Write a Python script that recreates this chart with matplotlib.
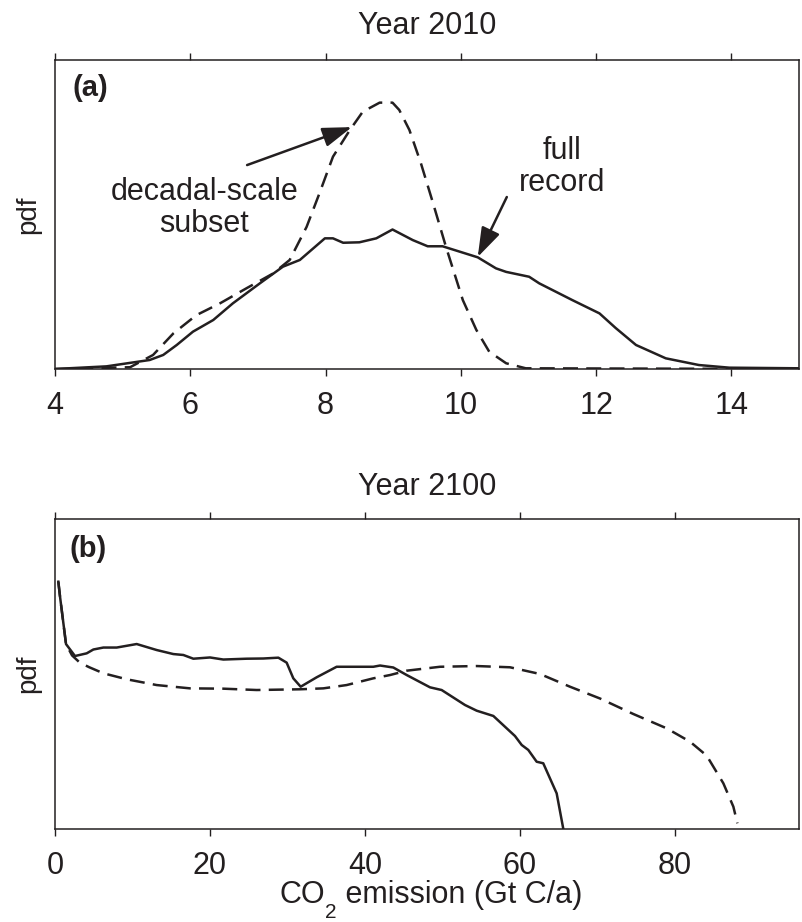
import matplotlib
matplotlib.use("Agg")
import matplotlib.pyplot as plt

plt.rcParams['font.family'] = ['Liberation Sans', 'DejaVu Sans']

INK = '#231f20'

# ---------------- Panel (a): Year 2010 ----------------
full2010_x = [4.0, 4.76, 5.40, 5.60, 5.80, 6.04, 6.34, 6.63, 7.03, 7.37, 7.62, 7.99, 8.11,
              8.26, 8.50, 8.75, 8.99, 9.29, 9.51, 9.73, 10.25, 10.52, 10.67, 11.01, 11.16,
              11.65, 12.05, 12.29, 12.59, 13.03, 13.52, 13.97, 15.0]
full2010_y = [0.0, 0.003, 0.0102, 0.0159, 0.0272, 0.0423, 0.0555, 0.0744, 0.0971, 0.1159,
              0.1235, 0.148, 0.148, 0.143, 0.1435, 0.148, 0.158, 0.146, 0.139, 0.139, 0.1265,
              0.114, 0.110, 0.1045, 0.097, 0.078, 0.063, 0.0464, 0.0272, 0.0121, 0.0045,
              0.0015, 0.0008]

dec2010_x = [4.0, 5.11, 5.45, 5.75, 6.09, 6.44, 6.83, 7.22, 7.47, 7.72, 7.91, 8.11, 8.36,
             8.55, 8.80, 8.99, 9.09, 9.24, 9.41, 9.59, 9.78, 10.03, 10.23, 10.42, 10.67,
             10.96, 15.0]
dec2010_y = [0.0, 0.002, 0.0159, 0.0403, 0.061, 0.0744, 0.0914, 0.108, 0.1235, 0.161, 0.199,
             0.2405, 0.2707, 0.2914, 0.3017, 0.3017, 0.2934, 0.2707, 0.233, 0.1877, 0.1385,
             0.078, 0.0442, 0.0196, 0.0065, 0.0008, 0.0]

# ---------------- Panel (b): Year 2100 ----------------
full2100_x = [0.43, 0.65, 1.42, 2.58, 4.09, 4.95, 6.24, 7.96, 10.54, 13.12, 15.27, 16.56,
              17.85, 20.0, 21.72, 24.73, 26.88, 28.82, 29.89, 30.75, 31.7, 33.76, 36.34,
              41.07, 41.94, 43.65, 45.38, 48.39, 49.89, 52.9, 54.41, 56.56, 59.35, 60.22,
              61.07, 62.15, 63.0, 64.73, 65.59]
full2100_y = [0.02393, 0.02248, 0.0179, 0.01674, 0.0170, 0.01737, 0.01756, 0.01756, 0.0179,
              0.01732, 0.01693, 0.01684, 0.01648, 0.0166, 0.0164, 0.01648, 0.0165, 0.01658,
              0.0161, 0.01458, 0.01377, 0.01468, 0.0157, 0.0157, 0.01582, 0.01563, 0.0149,
              0.01371, 0.01345, 0.0120, 0.01145, 0.01094, 0.0090, 0.00813, 0.00765, 0.00651,
              0.00636, 0.00345, 0.0]

dec2100_x = [0.43, 0.65, 1.42, 2.2, 3.2, 4.43, 6.24, 9.25, 13.12, 17.42, 21.72, 26.02, 31.6,
             34.62, 37.63, 41.07, 43.23, 45.38, 49.68, 54.41, 58.71, 62.58, 66.45, 70.32,
             74.62, 78.93, 81.94, 84.09, 86.24, 87.53, 88.05]
dec2100_y = [0.02393, 0.02248, 0.0179, 0.0168, 0.0161, 0.01565, 0.01507, 0.01449, 0.01393,
             0.01361, 0.01358, 0.01345, 0.01352, 0.01361, 0.01393, 0.01458, 0.0149, 0.01532,
             0.0157, 0.01577, 0.01565, 0.015, 0.01377, 0.01263, 0.01113, 0.00974, 0.00845,
             0.0071, 0.00442, 0.00216, 0.00055]

ticks_a = [4, 6, 8, 10, 12, 14]
ticks_b = [0, 20, 40, 60, 80]

FS = 22
LW = 1.8
DASH = (6.0, 3.3)

fig = plt.figure(figsize=(8.03, 9.22), dpi=100)
axa = fig.add_axes([55/803, (922-369)/922, 744/803, 309/922])
axb = fig.add_axes([55/803, (922-829)/922, 744/803, 310/922])


def style(ax, xlim, ylim, ticks):
    ax.set_xlim(*xlim)
    ax.set_ylim(*ylim)
    ax.set_xticks(ticks)
    ax.set_yticks([])
    for s in ax.spines.values():
        s.set_linewidth(1.1)
        s.set_color(INK)
    ax.tick_params(axis='x', which='both', direction='out', top=True, bottom=True,
                   length=5, width=1.0, color=INK, labelsize=FS, labelcolor=INK, pad=11)
    ax.set_ylabel('pdf', fontsize=20, color=INK)
    ax.yaxis.set_label_coords(-0.018, 0.5)


# Panel a
axa.plot(full2010_x, full2010_y, color=INK, lw=LW, solid_joinstyle='round')
axa.plot(dec2010_x, dec2010_y, color=INK, lw=LW, linestyle=(0, DASH))
style(axa, (4, 15), (0, 0.35), ticks_a)
axa.text(0.5, 1.084, 'Year 2010', transform=axa.transAxes, ha='center', va='baseline',
         fontsize=FS, color=INK)
axa.text(0.024, 0.909, '(a)', transform=axa.transAxes, ha='left', va='center',
         fontsize=21, fontweight='bold', color=INK)

axa.text(6.21, 0.1824, 'decadal-scale\nsubset', ha='center', va='center', fontsize=FS,
         color=INK, linespacing=1.05, multialignment='center')
axa.text(11.49, 0.2288, 'full\nrecord', ha='center', va='center', fontsize=FS,
         color=INK, linespacing=1.05, multialignment='center')
arrow_kw = dict(arrowstyle='-|>,head_length=0.9,head_width=0.3', color=INK, lw=1.8,
                mutation_scale=20, shrinkA=0, shrinkB=0)
axa.annotate('', xy=(8.39, 0.274), xytext=(6.84, 0.231), arrowprops=arrow_kw)
axa.annotate('', xy=(10.25, 0.1269), xytext=(10.68, 0.1948), arrowprops=arrow_kw)

# Panel b
axb.plot(full2100_x, full2100_y, color=INK, lw=LW, solid_joinstyle='round')
axb.plot(dec2100_x, dec2100_y, color=INK, lw=LW, linestyle=(0, DASH))
style(axb, (0, 96), (0, 0.03), ticks_b)
axb.text(0.5, 1.077, 'Year 2100', transform=axb.transAxes, ha='center', va='baseline',
         fontsize=FS, color=INK)
axb.text(0.019, 0.903, '(b)', transform=axb.transAxes, ha='left', va='center',
         fontsize=21, fontweight='bold', color=INK)

# x-axis label with a deep subscript, built from three text pieces
renderer = fig.canvas.get_renderer()
W, H = 803.0, 922.0
base_main = (H - 903) / H
base_sub = (H - 918) / H
parts = [('CO', FS, base_main), ('2', 15, base_sub), (' emission (Gt C/a)', FS, base_main)]
texts = []
for s, fs, yb in parts:
    t = fig.text(0, yb, s, fontsize=fs, color=INK, ha='left', va='baseline')
    texts.append(t)
widths = [t.get_window_extent(renderer).width for t in texts]
x = 431.0 - sum(widths) / 2.0
for t, w in zip(texts, widths):
    t.set_x(x / W)
    x += w

fig.savefig('out.png', dpi=100)
